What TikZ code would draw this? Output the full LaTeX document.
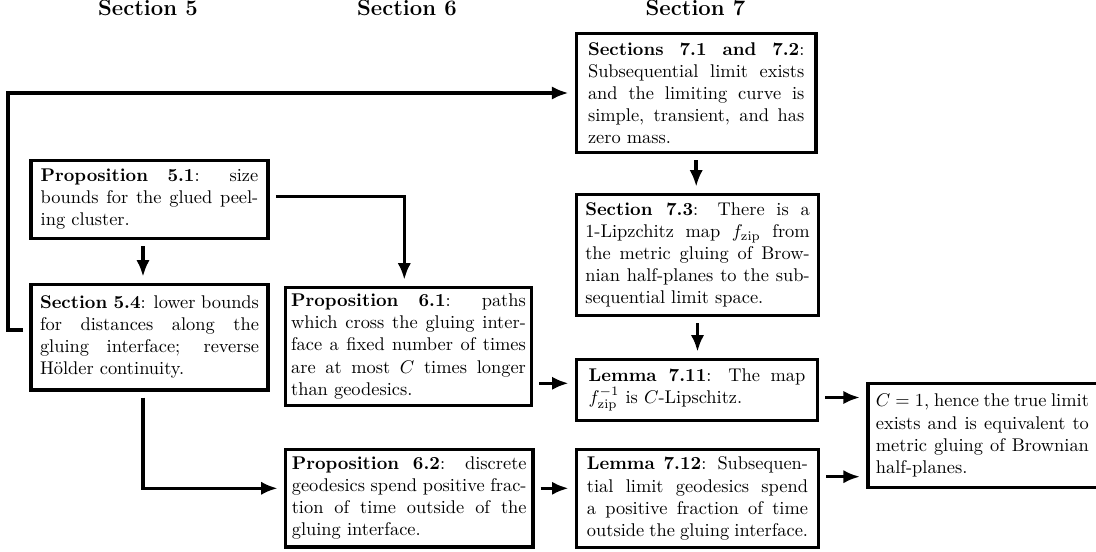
\documentclass[tikz,border=0pt]{standalone}
\usetikzlibrary{arrows.meta}
\begin{document}
\begin{tikzpicture}[x=0.5435pt,y=-0.5435pt,
  box/.style={draw,line width=1.9pt,outer sep=4.2pt,inner xsep=0pt,inner ysep=2pt,align=justify},
  arr/.style={line width=1.9pt,-{Latex[length=9pt,width=7.2pt]}},
  hdr/.style={font=\large\bfseries,anchor=base,inner sep=0pt}]
\useasboundingbox (0,0) rectangle (1096,552);
\clip (0,0) rectangle (1096,552);

% headers
\node[hdr] (h5) at (148,15.5) {Section 5};
\node[hdr] (h6) at (407,15.5) {Section 6};
\node[hdr] (h7) at (695.5,15.5) {Section 7};

% boxes
\node[box,text width=118.3pt,minimum width=129pt,minimum height=42.4pt] (p51) at (149.5,199.5)
  {\textbf{Proposition 5.1}: size bounds for the glued peeling cluster.};
\node[box,text width=119pt,minimum width=129pt,minimum height=57.3pt] (s54) at (149.5,337.2)
  {\textbf{Section 5.4}: lower bounds for distances along the gluing interface; reverse H\"older continuity.};
\node[box,text width=127.6pt,minimum width=133.7pt,minimum height=64.1pt] (p61) at (408.5,346.5)
  {\textbf{Proposition 6.1}: paths which cross the gluing interface a fixed number of times are at most $C$ times longer than geodesics.};
\node[box,text width=127.6pt,minimum width=134.5pt,minimum height=52.9pt] (p62) at (409.2,498.2)
  {\textbf{Proposition 6.2}: discrete geodesics spend positive fraction of time outside of the gluing interface.};
\node[box,text width=117.6pt,minimum width=130.4pt,minimum height=64.7pt] (s712) at (696.2,93)
  {\textbf{Sections 7.1 and 7.2}: Subsequential limit exists and the limiting curve is simple, transient, and has zero mass.};
\node[box,text width=122pt,minimum width=131.7pt,minimum height=65.8pt] (s73) at (697.5,255)
  {\textbf{Section 7.3}: There is a 1-Lipzchitz map $f_{\mathrm{zip}}$ from the metric gluing of Brownian half-planes to the subsequential limit space.};
\node[box,text width=117.7pt,minimum width=131.1pt,minimum height=33.2pt] (l711) at (697,390)
  {\textbf{Lemma 7.11}: The map $f_{\mathrm{zip}}^{-1}$ is $C$-Lipschitz.};
\node[box,text width=120.2pt,minimum width=131.7pt,minimum height=53.3pt] (l712) at (697.5,498.5)
  {\textbf{Lemma 7.12}: Subsequential limit geodesics spend a positive fraction of time outside the gluing interface.};
% last box runs past the right edge of the picture
\node[box,minimum width=148pt,minimum height=56.5pt] (fin) at (1003.9,435.5) {};
\node[inner sep=0pt,text width=115.8pt,align=justify] (fintxt) at (982.4,435.5)
  {$C=1$, hence the true limit exists and is equivalent to metric gluing of Brownian half-planes.};

% lane coordinates
\coordinate (cL) at (8,200);
\coordinate (yLoop) at (0,330);
\coordinate (xC5) at (143,0);
\coordinate (yA) at (0,196.7);
\coordinate (xC6) at (404.3,0);
\coordinate (yB) at (0,488.3);
\coordinate (yC) at (0,383.3);
\coordinate (yD) at (0,397.5);
\coordinate (yE) at (0,476.7);

% connectors
\draw[arr] (s54.west |- yLoop) -- (cL |- yLoop) -- (cL |- s712.west) -- (s712.west);
\draw[arr] (p51.south -| xC5) -- (s54.north -| xC5);
\draw[arr] (p51.east |- yA) -| (p61.north -| xC6);
\draw[arr] (s54.south -| xC5) |- (p62.west |- yB);
\draw[arr] (p61.east |- yC) -- (l711.west |- yC);
\draw[arr] (p62.east |- yB) -- (l712.west |- yB);
\draw[arr] (s712.south) -- (s712.south |- s73.north);
\draw[arr] (s73.south) -- (s73.south |- l711.north);
\draw[arr] (l711.east |- yD) -- (fin.west |- yD);
\draw[arr] (l712.east |- yE) -- (fin.west |- yE);
\end{tikzpicture}
\end{document}
